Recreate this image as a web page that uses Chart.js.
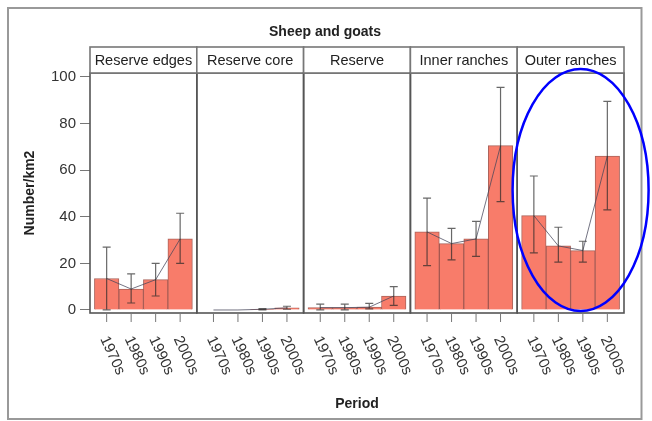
<!DOCTYPE html>
<html>
<head>
<meta charset="utf-8">
<script src="https://cdn.jsdelivr.net/npm/chart.js@4.4.1/dist/chart.umd.min.js"></script>
<style>
  body { margin: 0; background: #fff; }
  #wrap { width: 652px; height: 421px; }
</style>
</head>
<body>
<div id="wrap"><canvas id="chart" width="652" height="421"></canvas></div>
<script>
// data
const periods = ["1970s", "1980s", "1990s", "2000s"];
const regions = ["Reserve edges", "Reserve core", "Reserve", "Inner ranches", "Outer ranches"];

const edgesMean = [13.5, 9, 13, 30.5];
const coreMean = [0, 0, 0.3, 0.9];
const reserveMean = [1, 1, 1.2, 6];
const innerMean = [33.5, 28.5, 30.5, 70.5];
const outerMean = [40.5, 27.5, 25.5, 66];

const edgesLow = [0, 3, 6, 20];
const coreLow = [0, 0, 0, 0.3];
const reserveLow = [0, 0, 0.5, 2];
const innerLow = [19, 21.5, 23, 46.5];
const outerLow = [24.5, 20.5, 20.5, 43];

const edgesHigh = [27, 15.5, 20, 41.5];
const coreHigh = [0, 0, 0.6, 1.6];
const reserveHigh = [2.5, 2.5, 2.8, 10];
const innerHigh = [48, 35, 38, 95.5];
const outerHigh = [57.5, 35.5, 29.5, 89.5];

const yTicks = [0, 20, 40, 60, 80, 100];

const means = [edgesMean, coreMean, reserveMean, innerMean, outerMean];
const lows = [edgesLow, coreLow, reserveLow, innerLow, outerLow];
const highs = [edgesHigh, coreHigh, reserveHigh, innerHigh, outerHigh];

// facet layout: each panel is 4 bar slots plus a small margin each side
const MARGIN = 0.18;
const PANEL = periods.length + 2 * MARGIN;
function slotX(p, i) {
  return p * PANEL + MARGIN + i + 0.5;
}

let barPoints = [];
let errPoints = [];
regions.forEach((r, p) => {
  periods.forEach((per, i) => {
    barPoints.push({ x: slotX(p, i), y: means[p][i] });
    errPoints.push({ x: slotX(p, i), lo: lows[p][i], hi: highs[p][i] });
  });
});

let lineSets = regions.map((r, p) => ({
  type: "line",
  label: r,
  data: periods.map((per, i) => ({ x: slotX(p, i), y: means[p][i] })),
  borderColor: "rgba(70, 70, 90, 0.75)",
  borderWidth: 1,
  pointRadius: 0,
  fill: false,
  order: 0,
}));

const FONT = "'Liberation Sans', Arial, sans-serif";

const facetPlugin = {
  id: "facets",
  afterDatasetsDraw(chart) {
    const ctx = chart.ctx;
    const xs = chart.scales.x;
    const ys = chart.scales.y;

    // error bars
    ctx.save();
    ctx.strokeStyle = "rgba(40, 40, 40, 0.7)";
    ctx.lineWidth = 1.2;
    errPoints.forEach((e) => {
      if (e.hi - e.lo <= 0) return;
      const px = xs.getPixelForValue(e.x);
      const y1 = ys.getPixelForValue(e.lo);
      const y2 = ys.getPixelForValue(e.hi);
      ctx.beginPath();
      ctx.moveTo(px, y1);
      ctx.lineTo(px, y2);
      ctx.moveTo(px - 4, y1);
      ctx.lineTo(px + 4, y1);
      ctx.moveTo(px - 4, y2);
      ctx.lineTo(px + 4, y2);
      ctx.stroke();
    });
    ctx.restore();
  },
  afterDraw(chart) {
    const ctx = chart.ctx;
    const xs = chart.scales.x;
    const ys = chart.scales.y;
    const area = chart.chartArea;
    const stripTop = 47;

    ctx.save();
    // panel frames and strips
    regions.forEach((r, p) => {
      const l = xs.getPixelForValue(p * PANEL);
      const rr = xs.getPixelForValue((p + 1) * PANEL);
      ctx.strokeStyle = "#555";
      ctx.lineWidth = 1.6;
      ctx.strokeRect(l, area.top, rr - l, area.bottom - area.top);
      ctx.fillStyle = "#fff";
      ctx.fillRect(l, stripTop, rr - l, area.top - stripTop);
      ctx.strokeStyle = "#777";
      ctx.strokeRect(l, stripTop, rr - l, area.top - stripTop);
      ctx.fillStyle = "#222";
      ctx.font = "14.5px " + FONT;
      ctx.textAlign = "center";
      ctx.textBaseline = "middle";
      ctx.fillText(r, (l + rr) / 2, (stripTop + area.top) / 2 + 1);

      // x ticks and rotated labels
      periods.forEach((per, i) => {
        const px = xs.getPixelForValue(slotX(p, i));
        ctx.strokeStyle = "#777";
        ctx.lineWidth = 1;
        ctx.beginPath();
        ctx.moveTo(px, area.bottom + 1);
        ctx.lineTo(px, area.bottom + 9);
        ctx.stroke();
        ctx.save();
        ctx.translate(px - 3, area.bottom + 24);
        ctx.rotate((65 * Math.PI) / 180);
        ctx.font = "15px " + FONT;
        ctx.fillStyle = "#333";
        ctx.textAlign = "left";
        ctx.textBaseline = "middle";
        ctx.fillText(per, 0, 0);
        ctx.restore();
      });
    });

    // main title
    ctx.fillStyle = "#222";
    ctx.font = "bold 14px " + FONT;
    ctx.textAlign = "center";
    ctx.textBaseline = "middle";
    ctx.fillText("Sheep and goats", 325, 32);

    // outer frame of the figure
    ctx.strokeStyle = "#999";
    ctx.lineWidth = 2;
    ctx.strokeRect(8, 8, 633.5, 411);

    // highlight ellipse around the last panel
    const cx = xs.getPixelForValue(4 * PANEL + PANEL / 2) + 10;
    const cy = ys.getPixelForValue(51.5);
    ctx.strokeStyle = "#0000ff";
    ctx.lineWidth = 2.5;
    ctx.beginPath();
    ctx.ellipse(cx, cy, 68, 121, 0, 0, 2 * Math.PI);
    ctx.stroke();
    ctx.restore();
  },
};

new Chart(document.getElementById("chart"), {
  data: {
    datasets: [
      {
        type: "bar",
        label: "Sheep and goats",
        data: barPoints,
        backgroundColor: "rgb(248, 124, 106)",
        borderColor: "rgba(150, 60, 50, 0.8)",
        borderWidth: 1,
        barPercentage: 1,
        categoryPercentage: 1,
        order: 1,
      },
      ...lineSets,
    ],
  },
  options: {
    responsive: false,
    animation: false,
    devicePixelRatio: 1,
    layout: { padding: { left: 0, top: 73, right: 28, bottom: 0 } },
    plugins: {
      legend: { display: false },
      tooltip: { enabled: false },
    },
    scales: {
      x: {
        type: "linear",
        offset: false,
        min: 0,
        max: regions.length * PANEL,
        grid: { display: false, offset: false },
        border: { display: false },
        ticks: { display: false },
        title: {
          display: true,
          text: "Period",
          color: "#222",
          font: { family: FONT, size: 14, weight: "bold" },
          padding: { top: 0, bottom: 8 },
        },
        afterFit(scale) {
          scale.height = 108;
          scale.paddingLeft = 0;
          scale.paddingRight = 0;
        },
      },
      y: {
        min: -1.3,
        max: 101.7,
        grid: { drawOnChartArea: false, tickLength: 10, color: "#777" },
        border: { display: false },
        afterBuildTicks(scale) {
          scale.ticks = yTicks.map((v) => ({ value: v }));
        },
        ticks: {
          color: "#333",
          padding: 4,
          font: { family: FONT, size: 15 },
        },
        title: {
          display: true,
          text: "Number/km2",
          color: "#222",
          font: { family: FONT, size: 14, weight: "bold" },
          padding: { top: 22, bottom: 0 },
        },
        afterFit(scale) {
          scale.width = 90;
        },
      },
    },
  },
  plugins: [facetPlugin],
});
</script>
</body>
</html>
